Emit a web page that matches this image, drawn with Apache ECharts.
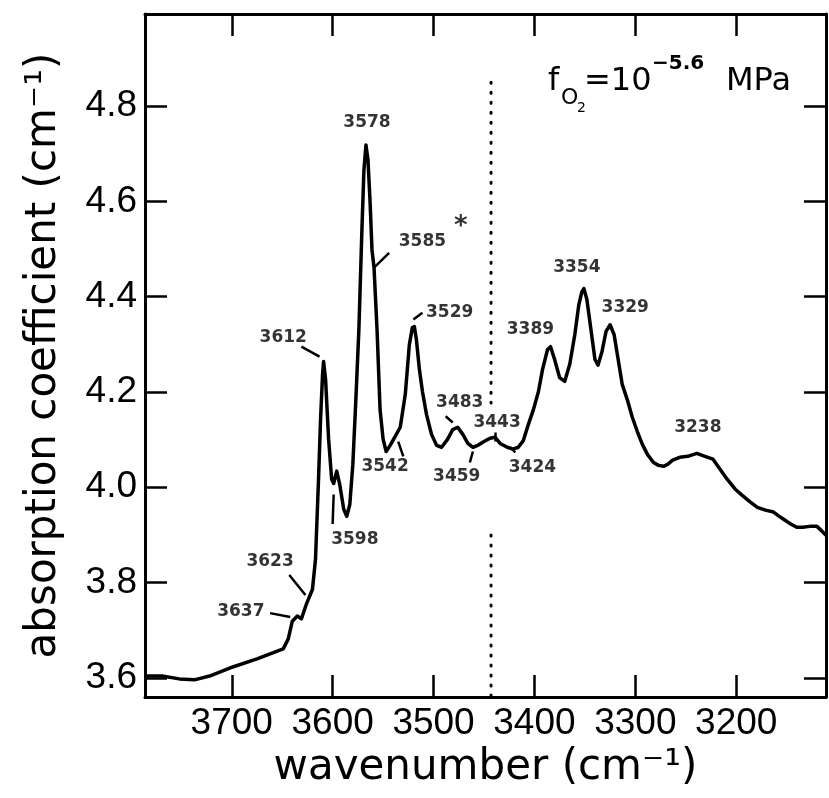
<!DOCTYPE html>
<html>
<head>
<meta charset="utf-8">
<script src="https://cdn.jsdelivr.net/npm/echarts@6/dist/echarts.min.js"></script>
<style>
  html, body { margin: 0; padding: 0; background: #fff; }
  #spec { width: 829px; height: 798px; }
</style>
</head>
<body>
<div id="spec"></div>
<script>
// spectrum
var wavenumber = [3786, 3769, 3752, 3737, 3722, 3699, 3675, 3649, 3644, 3640, 3635, 3631, 3626, 3620, 3617, 3614,
    3612, 3610, 3609, 3607, 3604, 3601, 3599, 3596, 3593, 3589, 3586, 3583, 3580, 3577, 3574, 3571, 3569, 3567,
    3565, 3563, 3561, 3559, 3556, 3553, 3550, 3547, 3543, 3538, 3533, 3528, 3524, 3521, 3519, 3517, 3514, 3511,
    3507, 3502, 3497, 3492, 3486, 3481, 3476, 3471, 3466, 3461, 3456, 3450, 3444, 3439, 3434, 3427, 3421, 3416,
    3411, 3406, 3401, 3396, 3392, 3387, 3384, 3380, 3375, 3370, 3365, 3360, 3356, 3353, 3351, 3348, 3344, 3340,
    3337, 3333, 3329, 3325, 3321, 3317, 3313, 3308, 3303, 3298, 3293, 3288, 3282, 3277, 3272, 3268, 3263, 3256,
    3248, 3239, 3231, 3223, 3216, 3209, 3201, 3194, 3186, 3179, 3171, 3163, 3156, 3146, 3140, 3134, 3127, 3120,
    3115, 3111];
var absorbance = [3.604, 3.604, 3.598, 3.596, 3.604, 3.623, 3.640, 3.661, 3.682, 3.719, 3.730, 3.724, 3.755, 3.786, 3.849, 4.017,
    4.142, 4.237, 4.264, 4.226, 4.101, 4.017, 4.008, 4.034, 4.006, 3.954, 3.939, 3.964, 4.048, 4.184, 4.331, 4.540, 4.666, 4.718,
    4.687, 4.603, 4.498, 4.461, 4.331, 4.163, 4.101, 4.075, 4.088, 4.107, 4.126, 4.195, 4.299, 4.335, 4.337, 4.310, 4.247, 4.201,
    4.153, 4.111, 4.088, 4.084, 4.101, 4.121, 4.126, 4.111, 4.092, 4.084, 4.088, 4.096, 4.103, 4.105, 4.092, 4.084, 4.080, 4.084,
    4.098, 4.132, 4.163, 4.201, 4.247, 4.289, 4.295, 4.268, 4.230, 4.222, 4.258, 4.320, 4.383, 4.410, 4.417, 4.394, 4.331, 4.268,
    4.256, 4.285, 4.327, 4.341, 4.320, 4.268, 4.216, 4.184, 4.147, 4.117, 4.090, 4.069, 4.052, 4.046, 4.044, 4.048, 4.057, 4.063,
    4.065, 4.071, 4.065, 4.059, 4.038, 4.017, 3.996, 3.983, 3.969, 3.958, 3.952, 3.948, 3.937, 3.923, 3.916, 3.916, 3.918, 3.918,
    3.908, 3.899];

var xTicks = [3200, 3300, 3400, 3500, 3600, 3700];
var yTicks = [3.6, 3.8, 4.0, 4.2, 4.4, 4.6, 4.8];

// peak labels (text, wavenumber, absorbance)
var peakText = ['3578', '3585', '*', '3529', '3612', '3389', '3354', '3329', '3483', '3443', '3542', '3459', '3424', '3598', '3623', '3637', '3238'];
var peakX = [3566, 3511, 3473, 3484, 3649, 3404, 3358, 3310, 3474, 3437, 3548, 3477, 3402, 3578, 3662, 3691, 3238];
var peakY = [4.766, 4.515, 4.545, 4.366, 4.314, 4.331, 4.461, 4.377, 4.178, 4.136, 4.044, 4.023, 4.042, 3.891, 3.845, 3.740, 4.126];

// little leader strokes from labels to the curve
var leaderFrom = [[3631, 4.295], [3544, 4.492], [3520, 4.352], [3535, 4.096], [3488, 4.149], [3461, 4.075],
    [3439, 4.115], [3424, 4.084], [3599, 3.985], [3643, 3.816], [3662, 3.736]];
var leaderTo = [[3613, 4.274], [3559, 4.461], [3511, 4.366], [3530, 4.065], [3481, 4.136], [3464, 4.052],
    [3439, 4.096], [3419, 4.073], [3600, 3.923], [3627, 3.774], [3642, 3.728]];

// dotted marker line
var dotX = 3443;
var dotUpper = [4.85, 4.177];
var dotLower = [3.90, 3.56];

var chart = echarts.init(document.getElementById('spec'));

var spectrum = wavenumber.map(function (w, i) { return [w, absorbance[i]]; });
var peaks = peakText.map(function (t, i) {
    var d = { name: t, value: [peakX[i], peakY[i]] };
    if (t === '*') d.label = { fontSize: 26 };
    return d;
});
var leaders = leaderFrom.map(function (p, i) { return { coords: [p, leaderTo[i]] }; });

var tickStyle = { show: true, inside: true, length: 22, lineStyle: { color: '#000', width: 2.5 } };
var frameLine = { show: true, onZero: false, lineStyle: { color: '#000', width: 3 } };

var option = {
    backgroundColor: '#fff',
    animation: false,
    grid: { left: 145, right: 3, top: 14, bottom: 101, containLabel: false, outerBoundsMode: 'none' },
    xAxis: [{
        type: 'value', position: 'bottom', inverse: true, min: 3111, max: 3786,
        axisLine: frameLine,
        axisTick: Object.assign({ customValues: xTicks }, tickStyle),
        axisLabel: {
            customValues: xTicks, color: '#000', fontSize: 37, fontFamily: 'Liberation Sans', margin: 8,
            formatter: function (v) { return String(v); }
        },
        splitLine: { show: false },
        name: 'wavenumber (cm⁻¹)', nameLocation: 'middle', nameGap: 50,
        nameTextStyle: { color: '#000', fontSize: 42, fontFamily: 'DejaVu Sans' }
    }, {
        type: 'value', position: 'top', inverse: true, min: 3111, max: 3786,
        axisLine: frameLine,
        axisTick: Object.assign({ customValues: xTicks }, tickStyle),
        axisLabel: { show: false },
        splitLine: { show: false }
    }],
    yAxis: [{
        type: 'value', position: 'left', min: 3.56, max: 4.993,
        axisLine: frameLine,
        axisTick: Object.assign({ customValues: yTicks }, tickStyle),
        axisLabel: {
            customValues: yTicks, color: '#000', fontSize: 37, fontFamily: 'Liberation Sans', margin: 8,
            formatter: function (v) { return v.toFixed(1); }
        },
        splitLine: { show: false },
        name: 'absorption coefficient (cm⁻¹)', nameLocation: 'middle', nameGap: 80,
        nameTextStyle: { color: '#000', fontSize: 42, fontFamily: 'DejaVu Sans' }
    }, {
        type: 'value', position: 'right', min: 3.56, max: 4.993,
        axisLine: frameLine,
        axisTick: Object.assign({ customValues: yTicks }, tickStyle),
        axisLabel: { show: false },
        splitLine: { show: false }
    }],
    series: [{
        name: 'spectrum', type: 'line', data: spectrum,
        showSymbol: false, symbol: 'none',
        lineStyle: { color: '#000', width: 3.5, join: 'round' },
        z: 5
    }, {
        name: 'marker-upper', type: 'line', showSymbol: false, symbol: 'none',
        data: [[dotX, dotUpper[0]], [dotX, dotUpper[1]]],
        lineStyle: { color: '#000', width: 3, type: [1, 9], cap: 'round' }
    }, {
        name: 'marker-lower', type: 'line', showSymbol: false, symbol: 'none',
        data: [[dotX, dotLower[0]], [dotX, dotLower[1]]],
        lineStyle: { color: '#000', width: 3, type: [1, 9], cap: 'round' }
    }, {
        name: 'leaders', type: 'lines', coordinateSystem: 'cartesian2d',
        data: leaders,
        lineStyle: { color: '#000', width: 2.5, opacity: 1, curveness: 0 }
    }, {
        name: 'peaks', type: 'scatter', data: peaks,
        symbolSize: 1, itemStyle: { color: 'rgba(0,0,0,0)' },
        label: {
            show: true, position: 'inside', color: '#000',
            fontFamily: 'DejaVu Sans', fontWeight: 'bold', fontSize: 17,
            formatter: function (p) { return p.name; }
        },
        z: 6
    }],
    graphic: [
        { type: 'text', left: 548, top: 66, style: { text: 'f', fontSize: 32, fontFamily: 'DejaVu Sans', fill: '#000' } },
        { type: 'text', left: 561, top: 87, style: { text: 'O', fontSize: 22, fontFamily: 'DejaVu Sans', fill: '#000' } },
        { type: 'text', left: 577, top: 101, style: { text: '2', fontSize: 14, fontFamily: 'DejaVu Sans', fill: '#000' } },
        { type: 'text', left: 584, top: 66, style: { text: '=10', fontSize: 32, fontFamily: 'DejaVu Sans', fill: '#000' } },
        { type: 'text', left: 652, top: 54, style: { text: '−5.6', fontSize: 20, fontWeight: 'bold', fontFamily: 'DejaVu Sans', fill: '#000' } },
        { type: 'text', left: 726, top: 66, style: { text: 'MPa', fontSize: 32, fontFamily: 'DejaVu Sans', fill: '#000' } }
    ]
};

chart.setOption(option);
</script>
</body>
</html>
